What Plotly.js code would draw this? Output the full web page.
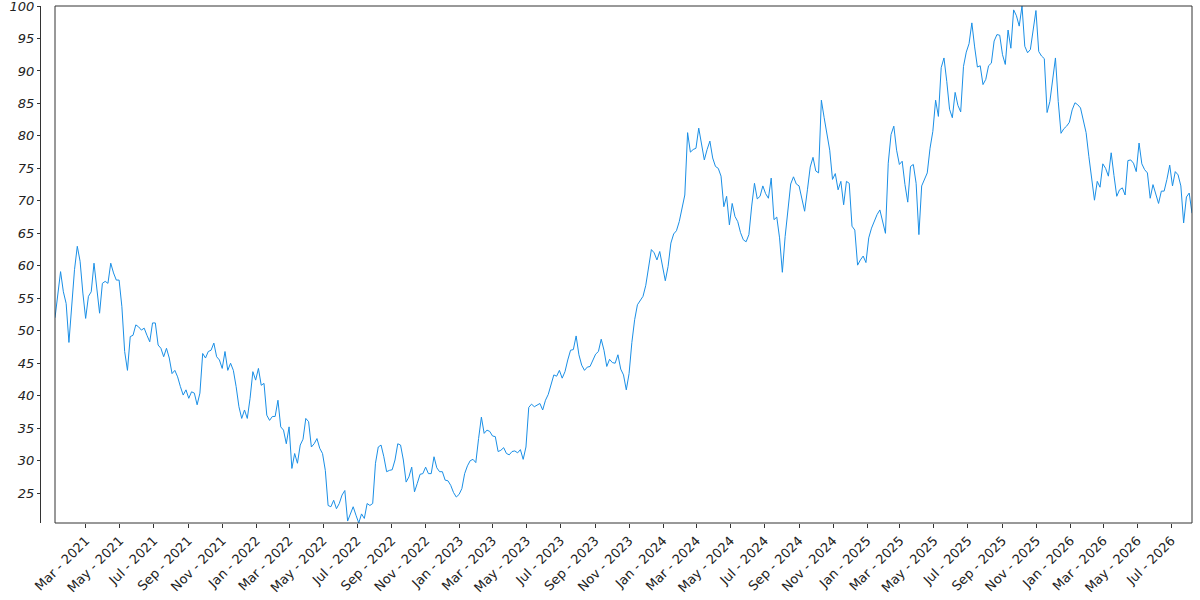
<!DOCTYPE html>
<html>
<head>
<meta charset="utf-8">
<script src="https://cdn.plot.ly/plotly-3.0.1.min.js"></script>
<style>html,body{margin:0;padding:0;background:#fff;}#chart{width:1200px;height:600px;}</style>
</head>
<body>
<div id="chart"></div>
<script>
// Regular 5-day sampling starting at this date
const startDate = '2021-01-05';
const stepDays = 5;

const values2021 = [
52.0, 55.5, 59.1, 56.0, 54.2, 48.2, 54.0, 59.4, 63.0, 60.7,
55.8, 51.9, 55.3, 56.0, 60.4, 56.0, 52.7, 57.3, 57.6, 57.3,
60.4, 58.9, 57.8, 57.8, 53.7, 46.8, 43.9, 49.1, 49.3, 50.9,
50.6, 50.1, 50.4, 49.3, 48.3, 51.2, 51.2, 47.8, 47.3, 46.0,
47.3, 45.8, 43.4, 43.9, 42.9, 41.4, 40.1, 40.9, 39.6, 40.6,
40.4, 38.6, 40.4, 46.5, 45.8, 46.8, 47.0, 48.1, 46.0, 45.5,
44.2, 46.8, 43.9, 45.0, 43.9, 41.4, 38.3, 36.5, 37.8, 36.5
];
const values2022 = [
39.6, 43.7, 42.4, 44.2, 41.6, 41.9, 37.0, 36.2, 36.8, 36.8,
39.3, 35.2, 34.7, 32.6, 35.2, 28.8, 31.1, 29.6, 32.4, 33.3,
36.5, 36.0, 32.1, 32.6, 33.4, 31.9, 31.1, 28.5, 23.1, 22.9,
23.9, 22.6, 23.4, 24.7, 25.4, 20.7, 21.8, 22.9, 21.6, 20.4,
21.8, 21.1, 23.4, 23.1, 23.4, 29.6, 32.1, 32.4, 30.6, 28.3,
28.5, 28.6, 30.1, 32.6, 32.4, 30.1, 26.7, 27.5, 29.0, 25.2,
26.5, 27.9, 28.0, 29.0, 28.0, 28.0, 30.6, 28.9, 28.3, 28.3,
27.0, 26.9
];
const values2023 = [
26.2, 25.1, 24.4, 24.8, 25.7, 28.0, 29.2, 30.0, 30.2, 29.7,
33.4, 36.7, 34.2, 34.7, 34.5, 33.8, 33.7, 31.4, 31.6, 32.0,
31.1, 30.9, 31.4, 31.5, 31.2, 31.7, 30.2, 32.1, 38.2, 38.7,
38.3, 38.6, 38.8, 37.8, 39.3, 40.2, 41.6, 43.2, 43.0, 43.9,
42.7, 43.7, 45.5, 47.0, 47.1, 49.2, 46.3, 44.7, 43.9, 44.4,
44.5, 45.5, 46.4, 46.8, 48.7, 47.0, 44.5, 45.6, 45.1, 45.0,
46.3, 44.1, 43.2, 40.9, 43.4, 48.2, 51.7, 54.0, 54.6, 55.3,
57.0
];
const values2024 = [
60.1, 62.5, 62.0, 60.9, 62.2, 59.9, 57.7, 59.9, 63.5, 64.9,
65.4, 66.8, 68.8, 70.9, 80.5, 77.5, 77.9, 78.1, 81.2, 78.4,
76.3, 77.9, 79.2, 76.6, 75.3, 75.0, 73.8, 69.1, 70.7, 66.3,
69.6, 67.6, 66.8, 65.1, 64.0, 63.7, 64.8, 69.2, 72.7, 70.3,
70.7, 72.3, 71.1, 70.4, 73.5, 67.1, 67.5, 64.3, 59.0, 64.5,
69.1, 72.6, 73.7, 72.6, 72.3, 70.4, 68.4, 71.7, 75.2, 76.7,
74.6, 74.3, 85.5, 82.8, 80.4, 77.8, 73.3, 74.2, 71.7
];
const values2025 = [
73.0, 69.4, 73.0, 72.7, 66.1, 65.5, 60.1, 60.9, 61.5, 60.5,
64.3, 65.8, 66.8, 67.9, 68.6, 66.8, 65.0, 75.8, 80.2, 81.5,
77.8, 75.6, 76.1, 72.5, 69.8, 75.3, 75.6, 72.7, 64.8, 72.3,
73.3, 74.3, 78.1, 80.7, 85.5, 83.0, 90.5, 92.0, 88.4, 84.1,
82.8, 86.7, 84.7, 83.7, 90.7, 92.9, 94.2, 97.4, 93.7, 90.6,
90.8, 87.9, 88.7, 90.8, 91.2, 94.6, 95.6, 95.5, 92.5, 91.0,
96.3, 93.5, 99.4, 98.5, 96.9
];
const values2026 = [
100.0, 93.8, 92.8, 93.3, 96.1, 99.3, 93.0, 92.3, 91.9, 83.6,
85.3, 88.7, 92.0, 85.3, 80.4, 81.1, 81.5, 82.1, 84.0, 85.1,
84.8, 84.3, 82.1, 80.5, 76.8, 73.7, 70.1, 73.0, 72.1, 75.7,
75.0, 73.8, 77.4, 73.9, 70.7, 71.7, 72.0, 70.9, 76.2, 76.3,
75.8, 74.5, 78.9, 75.7, 74.8, 74.3, 70.4, 72.5, 70.9, 69.6,
71.5, 71.5, 73.3, 75.5, 72.3, 74.5, 74.0, 72.3, 66.6, 70.6,
71.2, 68.1
];

const yTickValues = [25, 30, 35, 40, 45, 50, 55, 60, 65, 70, 75, 80, 85, 90, 95, 100];
const yRange = [20.4, 100];
const xTickFirst = '2021-03-01';
const xTickFormat = '%b - %Y';

const values = [].concat(values2021, values2022, values2023, values2024, values2025, values2026);
const t0 = new Date(startDate + 'T00:00:00Z').getTime();
const dates = values.map((v, i) => new Date(t0 + i * stepDays * 86400000).toISOString().slice(0, 10));

const trace = {
  x: dates,
  y: values,
  type: 'scatter',
  mode: 'lines',
  line: {color: '#1a8fe6', width: 1},
  hoverinfo: 'skip'
};

const axisColor = '#333333';
const layout = {
  width: 1200,
  height: 600,
  margin: {l: 40, r: 8, t: 6, b: 77, pad: 0},
  paper_bgcolor: '#ffffff',
  plot_bgcolor: '#ffffff',
  showlegend: false,
  xaxis: {
    type: 'date',
    domain: [15 / 1152, 1],
    range: [dates[0], dates[dates.length - 1]],
    tick0: xTickFirst,
    dtick: 'M2',
    tickformat: xTickFormat,
    tickangle: -45,
    ticks: 'outside',
    ticklen: 4,
    tickcolor: axisColor,
    showgrid: false,
    zeroline: false,
    showline: false,
    ticklabeloverflow: 'allow',
    tickfont: {family: 'DejaVu Sans', size: 13, color: '#222222'}
  },
  yaxis: {
    range: yRange,
    tickmode: 'array',
    tickvals: yTickValues,
    ticktext: yTickValues.map(v => '<i>' + v + '</i>'),
    anchor: 'free',
    position: 0,
    showline: true,
    linecolor: axisColor,
    linewidth: 1,
    ticks: 'outside',
    ticklen: 3,
    tickcolor: axisColor,
    showgrid: false,
    zeroline: false,
    ticklabeloverflow: 'allow',
    tickfont: {family: 'DejaVu Sans', size: 13, color: '#222222'}
  },
  shapes: [{
    type: 'rect', xref: 'x domain', yref: 'y domain',
    x0: 0, x1: 1, y0: 0, y1: 1,
    line: {color: axisColor, width: 1},
    layer: 'above'
  }]
};

Plotly.newPlot('chart', [trace], layout, {staticPlot: true, displayModeBar: false});
</script>
</body>
</html>
